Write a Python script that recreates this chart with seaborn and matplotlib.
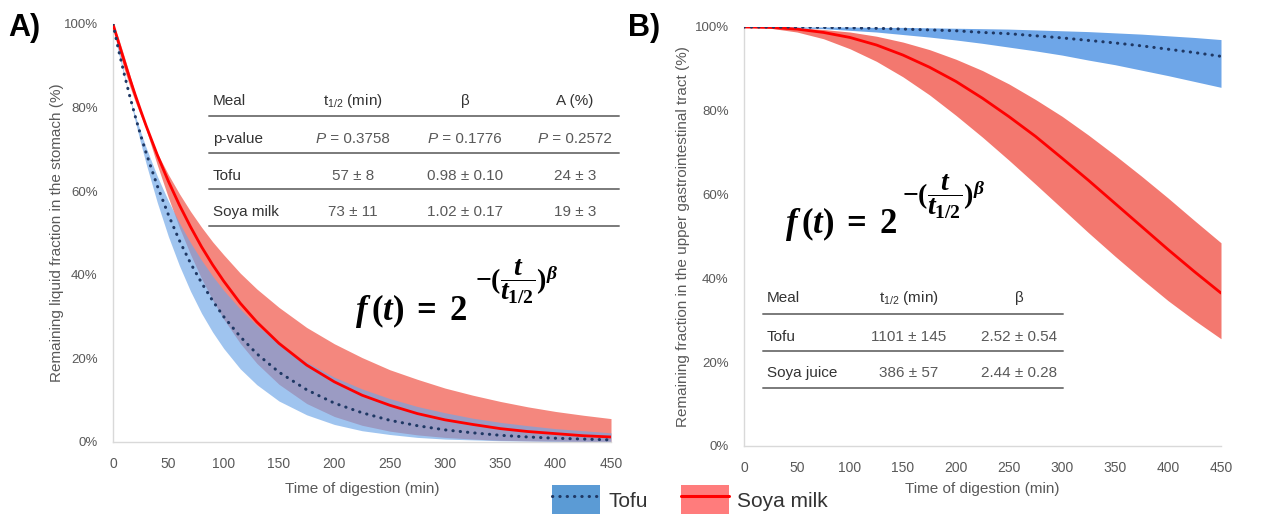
import matplotlib
matplotlib.use("Agg")
import matplotlib.pyplot as plt
from matplotlib.patches import Patch
from matplotlib.lines import Line2D
from matplotlib.legend_handler import HandlerTuple
import pandas as pd
import seaborn as sns

# ---------------- data ----------------
# Panel A: liquid fraction remaining in the stomach (%)
t_a = [0, 5, 10, 15, 20, 25, 30, 40, 50, 60, 70, 80, 90, 100, 115, 130, 150, 175,
       200, 225, 250, 275, 300, 325, 350, 375, 400, 425, 450]
tofu_a = [100.0, 93.8, 88.2, 82.9, 78.0, 73.4, 69.1, 61.3, 54.4, 48.2, 42.8, 38.1, 33.8, 30.0,
          25.2, 21.1, 16.7, 12.5, 9.3, 7.0, 5.2, 3.9, 2.9, 2.2, 1.6, 1.2, 0.9, 0.7, 0.5]
tofu_a_hi = [100.0, 93.0, 87.5, 82.6, 78.2, 74.2, 70.4, 63.6, 57.7, 52.4, 47.7, 43.5, 39.7, 36.3,
             31.8, 27.9, 23.5, 19.1, 15.5, 12.7, 10.4, 8.5, 7.0, 5.7, 4.7, 3.9, 3.2, 2.7, 2.2]
tofu_a_lo = [100.0, 94.3, 88.3, 82.4, 76.8, 71.5, 66.5, 57.3, 49.2, 42.2, 36.1, 30.8, 26.3, 22.4,
             17.5, 13.7, 9.8, 6.5, 4.2, 2.7, 1.8, 1.1, 0.7, 0.5, 0.3, 0.2, 0.1, 0.1, 0.0]
soya_a = [100.0, 95.6, 91.3, 87.1, 83.1, 79.3, 75.6, 68.7, 62.4, 56.7, 51.5, 46.7, 42.4, 38.5,
          33.2, 28.7, 23.6, 18.4, 14.4, 11.2, 8.8, 6.8, 5.3, 4.2, 3.2, 2.5, 2.0, 1.5, 1.2]
soya_a_hi = [100.0, 93.9, 89.3, 85.2, 81.5, 78.1, 74.9, 69.1, 64.0, 59.4, 55.2, 51.4, 47.9, 44.8,
             40.4, 36.6, 32.2, 27.4, 23.5, 20.2, 17.3, 15.0, 12.9, 11.2, 9.7, 8.4, 7.3, 6.4, 5.6]
soya_a_lo = [100.0, 96.6, 92.4, 88.0, 83.5, 79.0, 74.7, 66.3, 58.5, 51.3, 44.9, 39.1, 34.0, 29.4,
             23.6, 18.8, 13.8, 9.2, 6.1, 4.0, 2.6, 1.7, 1.1, 0.7, 0.4, 0.3, 0.2, 0.1, 0.1]

# Panel B: fraction remaining in the upper gastrointestinal tract (%)
t_b = [0, 25, 50, 75, 100, 125, 150, 175, 200, 225, 250, 275, 300, 325, 350, 375, 400, 425, 450]
tofu_b = [100.0, 100.0, 100.0, 99.9, 99.8, 99.7, 99.5, 99.3, 99.1, 98.7, 98.4, 97.9, 97.4, 96.8,
          96.2, 95.5, 94.7, 93.9, 93.0]
tofu_b_hi = [100.0, 100.0, 100.0, 100.0, 100.0, 99.9, 99.9, 99.8, 99.7, 99.6, 99.5, 99.3, 99.1,
             98.9, 98.6, 98.3, 97.9, 97.5, 97.0]
tofu_b_lo = [100.0, 99.9, 99.8, 99.6, 99.2, 98.8, 98.2, 97.6, 96.9, 96.1, 95.2, 94.3, 93.3, 92.1,
             91.0, 89.7, 88.4, 87.0, 85.6]
soya_b = [100.0, 99.9, 99.5, 98.7, 97.5, 95.7, 93.3, 90.4, 87.0, 83.0, 78.6, 73.9, 68.7, 63.4,
          57.9, 52.4, 46.9, 41.6, 36.5]
soya_b_hi = [100.0, 100.0, 99.8, 99.4, 98.8, 97.8, 96.4, 94.6, 92.3, 89.6, 86.4, 82.7, 78.7, 74.2,
             69.4, 64.4, 59.2, 53.8, 48.5]
soya_b_lo = [100.0, 99.7, 98.8, 97.2, 94.8, 91.8, 88.1, 83.8, 78.9, 73.7, 68.2, 62.5, 56.7, 50.9,
             45.3, 39.9, 34.7, 30.0, 25.6]

x_ticks = [0, 50, 100, 150, 200, 250, 300, 350, 400, 450]
y_ticks = [0, 20, 40, 60, 80, 100]
y_ticklabels = ["0%", "20%", "40%", "60%", "80%", "100%"]

table_a_header = ["Meal", r"$\mathregular{t_{1/2}}$ (min)", "β", "A (%)"]
table_a_pvals = ["0.3758", "0.1776", "0.2572"]
table_a_rows = [["Tofu", "57 ± 8", "0.98 ± 0.10", "24 ± 3"],
                ["Soya milk", "73 ± 11", "1.02 ± 0.17", "19 ± 3"]]
table_b_header = ["Meal", r"$\mathregular{t_{1/2}}$ (min)", "β"]
table_b_rows = [["Tofu", "1101 ± 145", "2.52 ± 0.54"],
                ["Soya juice", "386 ± 57", "2.44 ± 0.28"]]

# ---------------- style ----------------
sns.set_theme(style="white")
plt.rcParams["font.family"] = ["Liberation Sans", "DejaVu Sans"]
plt.rcParams["mathtext.fontset"] = "custom"
plt.rcParams["mathtext.rm"] = "Liberation Serif:bold"
plt.rcParams["mathtext.it"] = "Liberation Serif:italic:bold"
plt.rcParams["mathtext.bf"] = "Liberation Serif:bold"

W, H = 1262, 514
fig = plt.figure(figsize=(W / 100, H / 100), dpi=100)


def px(x, y):
    return x / W, 1 - y / H


def axes_px(left, right, top, bottom):
    return fig.add_axes([left / W, 1 - bottom / H, (right - left) / W, (bottom - top) / H])


ax_a = axes_px(113, 611, 24, 442)
ax_b = axes_px(744, 1221, 27, 446)

RED_BAND = "#f4877e"
BLUE_BAND = "#6ea6e8"
NAVY = "#1f3864"
RED = "#ff0000"
TXT = "#595959"
DOT = (0, (0.1, 2.3))

df_a = pd.DataFrame({"t": t_a, "Tofu": tofu_a, "Soya milk": soya_a})
df_b = pd.DataFrame({"t": t_b, "Tofu": tofu_b, "Soya milk": soya_b})

# Panel A
ax_a.fill_between(t_a, soya_a_lo, soya_a_hi, color=RED_BAND, linewidth=0, zorder=1)
ax_a.fill_between(t_a, tofu_a_lo, tofu_a_hi, color=BLUE_BAND, alpha=0.66, linewidth=0, zorder=2)
sns.lineplot(data=df_a, x="t", y="Soya milk", ax=ax_a, color=RED, linewidth=2.0, zorder=3)
sns.lineplot(data=df_a, x="t", y="Tofu", ax=ax_a, color=NAVY, linewidth=2.2,
             linestyle=DOT, dash_capstyle="round", zorder=4)

# Panel B
ax_b.fill_between(t_b, soya_b_lo, soya_b_hi, color="#f3786f", linewidth=0, zorder=1)
ax_b.fill_between(t_b, tofu_b_lo, tofu_b_hi, color=BLUE_BAND, linewidth=0, zorder=2)
sns.lineplot(data=df_b, x="t", y="Soya milk", ax=ax_b, color=RED, linewidth=2.0, zorder=3)
sns.lineplot(data=df_b, x="t", y="Tofu", ax=ax_b, color=NAVY, linewidth=2.2,
             linestyle=DOT, dash_capstyle="round", zorder=4)

for ax, ylabel, xpad, ypad in [(ax_a, "Remaining liquid fraction in the stomach (%)", 8, 0),
                               (ax_b, "Remaining fraction in the upper gastrointestinal tract (%)", 5, 3)]:
    ax.set_xlim(0, 450)
    ax.set_ylim(0, 100)
    ax.set_xticks(x_ticks)
    ax.set_xticklabels([str(v) for v in x_ticks])
    ax.set_yticks(y_ticks)
    ax.set_yticklabels(y_ticklabels)
    ax.tick_params(axis="x", length=0, pad=11, labelsize=10, labelcolor=TXT)
    ax.tick_params(axis="y", length=0, pad=11, labelsize=9.5, labelcolor=TXT)
    ax.set_xlabel("Time of digestion (min)", fontsize=11, color=TXT, labelpad=xpad)
    ax.set_ylabel(ylabel, fontsize=11, color=TXT, labelpad=ypad)
    for s in ["top", "right"]:
        ax.spines[s].set_visible(False)
    for s in ["left", "bottom"]:
        ax.spines[s].set_color("#d9d9d9")
        ax.spines[s].set_linewidth(1.0)
    ax.set_facecolor("none")

# Panel letters
fig.text(*px(8, 28), "A)", fontsize=22, fontweight="bold", va="center", ha="left", color="black")
fig.text(*px(628, 28), "B)", fontsize=22, fontweight="bold", va="center", ha="left", color="black")

# ---------------- tables ----------------
DARK = "#333333"
LINE = "#7a7a7a"


def hline(x0, x1, y):
    fig.add_artist(Line2D([x0 / W, x1 / W], [1 - y / H, 1 - y / H], color=LINE, linewidth=1.4))


def cell(x, y, s, ha="center", color=TXT, **kw):
    return fig.text(*px(x, y), s, ha=ha, va="center", fontsize=11, color=color, **kw)


# Table A
colx_a = [213, 353, 465, 575]
cell(colx_a[0], 101, table_a_header[0], ha="left", color=DARK)
for cx, s in zip(colx_a[1:], table_a_header[1:]):
    cell(cx, 101, s, color=DARK)
hline(209, 619, 116)
cell(colx_a[0], 139, "p-value", ha="left", color=DARK)
for cx, pv in zip(colx_a[1:], table_a_pvals):
    t1 = cell(cx - 37, 139, "P", ha="left", style="italic")
    plt.annotate(" = " + pv, xy=(1, 0.5), xycoords=t1, va="center", ha="left",
                 fontsize=11, color=TXT, annotation_clip=False)
hline(209, 619, 153)
for y, row in zip([176, 212], table_a_rows):
    cell(colx_a[0], y, row[0], ha="left", color=DARK)
    for cx, s in zip(colx_a[1:], row[1:]):
        cell(cx, y, s)
hline(209, 619, 189)
hline(209, 619, 226)

# Table B
colx_b = [767, 909, 1019]
cell(colx_b[0], 298, table_b_header[0], ha="left", color=DARK)
for cx, s in zip(colx_b[1:], table_b_header[1:]):
    cell(cx, 298, s, color=DARK)
hline(763, 1063, 314)
for y, row in zip([337, 373], table_b_rows):
    cell(colx_b[0], y, row[0], ha="left", color=DARK)
    for cx, s in zip(colx_b[1:], row[1:]):
        cell(cx, y, s)
hline(763, 1063, 351)
hline(763, 1063, 388)

# ---------------- formulas ----------------
MAIN = r"$f\,(t)\;=\;2$"
EXPO = r"$-(\dfrac{t}{t_{1/2}})^{\beta}$"
fig.text(*px(355, 320), MAIN, fontsize=25, ha="left", va="baseline", color="black")
fig.text(*px(475, 282), EXPO, fontsize=20, ha="left", va="center", color="black")
fig.text(*px(785, 233), MAIN, fontsize=25, ha="left", va="baseline", color="black")
fig.text(*px(902, 197), EXPO, fontsize=20, ha="left", va="center", color="black")

# ---------------- legend ----------------
h_tofu = (Patch(facecolor="#5b9bd5", edgecolor="none"),
          Line2D([], [], color=NAVY, linewidth=2.2, linestyle=DOT, dash_capstyle="round"))
h_soya = (Patch(facecolor="#ff7c7c", edgecolor="none"),
          Line2D([], [], color=RED, linewidth=2.2))
fig.legend([h_tofu, h_soya], ["Tofu", "Soya milk"], handler_map={tuple: HandlerTuple(ndivide=1, pad=0)},
           loc="center", bbox_to_anchor=px(690, 500), ncol=2, frameon=False, fontsize=15,
           handlelength=2.3, handleheight=1.8, handletextpad=0.4, columnspacing=1.6,
           labelcolor="#333333", borderpad=0, borderaxespad=0)

fig.savefig("out.png", dpi=100)
